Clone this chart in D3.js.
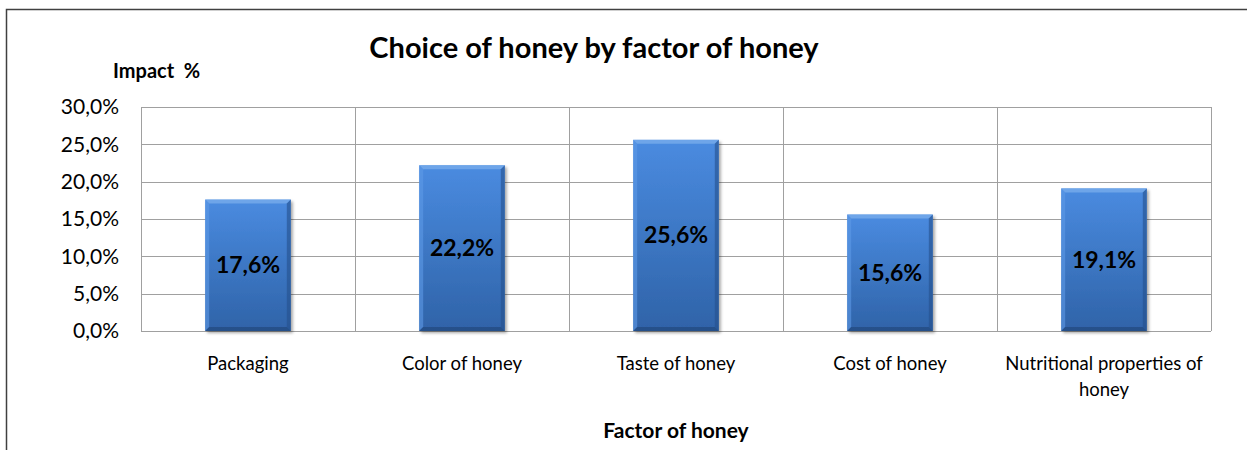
<!DOCTYPE html>
<html><head><meta charset="utf-8">
<script src="https://cdn.jsdelivr.net/npm/d3@7"></script>
<style>
body{margin:0;background:#fff;}
svg text{font-family:"Lato","Open Sans",sans-serif;fill:#000;}
</style></head>
<body>
<svg id="c" width="1247" height="450"></svg>
<script>
const categories = ["Packaging","Color of honey","Taste of honey","Cost of honey","Nutritional properties of honey"];
const values = [17.6, 22.2, 25.6, 15.6, 19.1];
const yTicks = [0,5,10,15,20,25,30];
const title = "Choice of honey by factor of honey";
const yTitle = "Impact\u00a0 %";
const xTitle = "Factor of honey";

const svg = d3.select("#c");
const m = {left:141, right:1211, top:107, bottom:331};
const fmt = v => v.toFixed(1).replace(".", ",") + "%";

// frame
svg.append("path").attr("d","M6.5,450 L6.5,9.5 L1247,9.5").attr("fill","none").attr("stroke","#404040").attr("stroke-width",1.5);

const defs = svg.append("defs");
const gv = defs.append("linearGradient").attr("id","gv").attr("x1",0).attr("y1",0).attr("x2",0).attr("y2",1);
gv.append("stop").attr("offset","0%").attr("stop-color","#4a8be0");
gv.append("stop").attr("offset","100%").attr("stop-color","#2f63a8");
const f = defs.append("filter").attr("id","sh").attr("x","-20%").attr("y","-20%").attr("width","140%").attr("height","140%");
f.append("feDropShadow").attr("dx",2).attr("dy",2).attr("stdDeviation",1.5).attr("flood-color","#000").attr("flood-opacity",0.35);

const x = d3.scaleBand().domain(categories).range([m.left, m.right]).paddingInner(0).paddingOuter(0);
const y = d3.scaleLinear().domain([0,30]).range([m.bottom, m.top]);

// gridlines
svg.append("g").selectAll("line").data(yTicks).join("line")
  .attr("x1",m.left).attr("x2",m.right).attr("y1",d=>Math.round(y(d))+0.5).attr("y2",d=>Math.round(y(d))+0.5)
  .attr("stroke","#a0a0a0").attr("stroke-width",1);
// vertical lines
const vx = categories.map(c=>x(c)).concat([m.right]);
svg.append("g").selectAll("line").data(vx).join("line")
  .attr("x1",d=>Math.round(d)+0.5).attr("x2",d=>Math.round(d)+0.5).attr("y1",m.top).attr("y2",m.bottom)
  .attr("stroke","#a0a0a0").attr("stroke-width",1);

// y labels
svg.append("g").selectAll("text").data(yTicks).join("text")
  .attr("x",119).attr("y",d=>y(d)).attr("dy","0.35em").attr("text-anchor","end")
  .attr("font-size",21).text(d=>fmt(d));

// bars
const bw = x.bandwidth()*0.4;
const bars = svg.append("g").selectAll("g").data(values).join("g");
bars.append("rect")
  .attr("x",(d,i)=>x(categories[i])+x.bandwidth()/2-bw/2)
  .attr("y",d=>y(d)).attr("width",bw).attr("height",d=>y(0)-y(d))
  .attr("fill","url(#gv)").attr("filter","url(#sh)");
// bevel highlights
bars.append("path").attr("d",(d,i)=>{
  const x0=x(categories[i])+x.bandwidth()/2-bw/2, x1=x0+bw, y0=y(d), b=4;
  return `M${x0},${y0} L${x1},${y0} L${x1-b},${y0+b} L${x0+b},${y0+b} Z`;
}).attr("fill","#7fb0ec").attr("opacity",0.7);
bars.append("path").attr("d",(d,i)=>{
  const x0=x(categories[i])+x.bandwidth()/2-bw/2, y0=y(d), y1=y(0), b=4;
  return `M${x0},${y0} L${x0+b},${y0+b} L${x0+b},${y1-b} L${x0},${y1} Z`;
}).attr("fill","#5d9ae6").attr("opacity",0.6);
bars.append("path").attr("d",(d,i)=>{
  const x1=x(categories[i])+x.bandwidth()/2+bw/2, y0=y(d), y1=y(0), b=4;
  return `M${x1},${y0} L${x1-b},${y0+b} L${x1-b},${y1-b} L${x1},${y1} Z`;
}).attr("fill","#24508c").attr("opacity",0.6);
bars.append("path").attr("d",(d,i)=>{
  const x0=x(categories[i])+x.bandwidth()/2-bw/2, x1=x0+bw, y1=y(0), b=4;
  return `M${x0},${y1} L${x0+b},${y1-b} L${x1-b},${y1-b} L${x1},${y1} Z`;
}).attr("fill","#1f4577").attr("opacity",0.6);
bars.append("text")
  .attr("x",(d,i)=>x(categories[i])+x.bandwidth()/2)
  .attr("y",d=>(y(d)+y(0))/2).attr("dy","0.35em").attr("text-anchor","middle")
  .attr("font-size",23).attr("font-weight","bold").text(d=>fmt(d));

// x labels with wrap
svg.append("g").selectAll("text").data(categories).join("text")
  .attr("x",d=>x(d)+x.bandwidth()/2).attr("y",364).attr("dy","0.35em").attr("text-anchor","middle")
  .attr("font-size",18.5)
  .each(function(d){
    const t=d3.select(this);
    if(d.length>20){
      const w=d.split(" ");
      const l1=w.slice(0,w.length-1).join(" "), l2=w[w.length-1];
      t.append("tspan").attr("x",x(d)+x.bandwidth()/2).text(l1);
      t.append("tspan").attr("x",x(d)+x.bandwidth()/2).attr("dy","1.4em").text(l2);
    } else t.text(d);
  });

svg.append("text").attr("x",594).attr("y",48).attr("dy","0.35em").attr("text-anchor","middle")
  .attr("font-size",29).attr("font-weight","bold").text(title);
svg.append("text").attr("x",113).attr("y",71).attr("dy","0.35em").attr("text-anchor","start")
  .attr("font-size",20).attr("font-weight","bold").text(yTitle);
svg.append("text").attr("x",676).attr("y",431).attr("dy","0.35em").attr("text-anchor","middle")
  .attr("font-size",21).attr("font-weight","bold").text(xTitle);
</script>
</body></html>
